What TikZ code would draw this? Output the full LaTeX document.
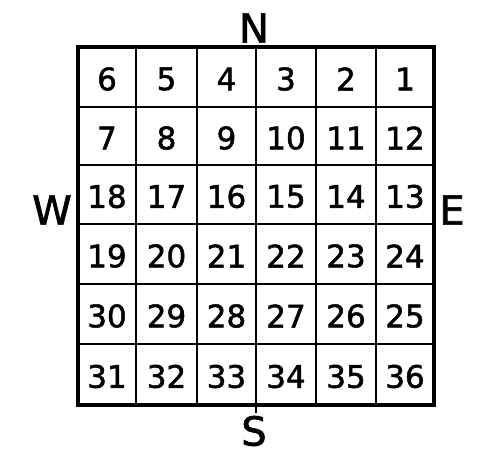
\documentclass[tikz,border=0pt]{standalone}
\usepackage{fontspec}
\setmainfont{DejaVu Sans}
\newfontfamily\gridfont[FakeBold=1.6]{DejaVu Sans}
\begin{document}
\begin{tikzpicture}[x=1pt,y=-1pt,
  num/.style={font=\gridfont\fontsize{31}{31}\selectfont, inner sep=0pt, anchor=center},
  dir/.style={font=\gridfont\fontsize{40}{40}\selectfont, inner sep=0pt, anchor=center},
  inner/.style={line width=2.5pt},
  outer/.style={line width=4.5pt, line join=miter}]
\useasboundingbox (0,0) rectangle (500,454);
\def\xs{{78,136,197,256,316,376,434}}
\def\ys{{47,107,165,224,284,344,405}}
% inner lines
\foreach \i in {1,...,5}{
  \pgfmathsetmacro\xx{\xs[\i]}
  \pgfmathsetmacro\yy{\ys[\i]}
  \draw[inner] (\xx,47) -- (\xx,405);
  \draw[inner] (78,\yy) -- (434,\yy);
}
\draw[inner] (256,405) -- (256,413);
\draw[outer] (78,47) rectangle (434,405);
% numbers
\foreach \r in {0,...,5}{
  \foreach \c in {0,...,5}{
    \pgfmathtruncatemacro\odd{mod(\r,2)}
    \pgfmathtruncatemacro\n{\odd==0 ? 6*\r+6-\c : 6*\r+1+\c}
    \pgfmathtruncatemacro\cn{\c+1}
    \pgfmathtruncatemacro\rn{\r+1}
    \pgfmathsetmacro\xa{\xs[\c]}
    \pgfmathsetmacro\xb{\xs[\cn]}
    \pgfmathsetmacro\ya{\ys[\r]}
    \pgfmathsetmacro\yb{\ys[\rn]}
    \pgfmathsetmacro\cx{(\xa+\xb)/2}
    \pgfmathsetmacro\cy{(\ya+\yb)/2+2}
    \node[num] (s\n) at (\cx,\cy) {\n};
  }
}
\node[dir] (N) at (254,28) {N};
\node[dir] (S) at (254,431) {S};
\node[dir] (W) at (52,210) {W};
\node[dir] (E) at (452,210) {E};
\end{tikzpicture}
\end{document}
